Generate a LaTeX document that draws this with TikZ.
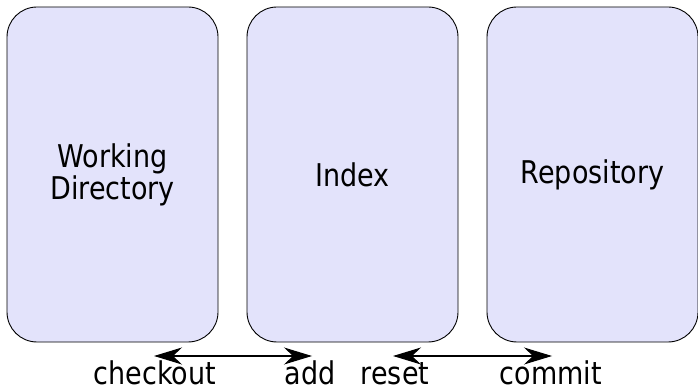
\documentclass[tikz,border=0pt]{standalone}
\usepackage{fontspec}
\setmainfont{DejaVu Sans}
\usetikzlibrary{arrows.meta}
\definecolor{boxfill}{RGB}{227,227,251}
\newcommand{\tallsans}[1]{\scalebox{1}[1.16]{#1}}
\tikzset{
    area/.style={draw, rounded corners=30pt, fill=boxfill, line width=0.9pt,
        minimum width=211pt, minimum height=335pt, align=center,
        font=\fontsize{27}{32}\selectfont},
    lbl/.style={anchor=base, inner sep=0pt, font=\fontsize{27}{32}\selectfont},
    flow/.style={{Stealth[length=28pt, width=17pt, inset=9pt]}-{Stealth[length=28pt, width=17pt, inset=9pt]}, line width=1.1pt}
}
\begin{document}
\begin{tikzpicture}[node distance=240pt, auto]
    \useasboundingbox (0pt,0pt) rectangle (698pt,388pt);
    \node[area] (wd) at (112.5pt,213.5pt) {\tallsans{Working}\\\tallsans{Directory}};
    \node[area, right of=wd] (idx) {\tallsans{Index}};
    \node[area, right of=idx] (repo) {\tallsans{Repository}};
    \node[lbl] (checkout) at (155pt,4pt) {\tallsans{checkout}};
    \node[lbl] (add) at (310pt,4pt) {\tallsans{add}};
    \node[lbl] (reset) at (395pt,4pt) {\tallsans{reset}};
    \node[lbl] (commit) at (551pt,4pt) {\tallsans{commit}};
    \coordinate (co) at (154pt,32pt);
    \coordinate (ad) at (312pt,32pt);
    \coordinate (re) at (393pt,32pt);
    \coordinate (cm) at (552pt,32pt);
    \draw[flow] (co) -- (ad);
    \draw[flow] (re) -- (cm);
\end{tikzpicture}
\end{document}
